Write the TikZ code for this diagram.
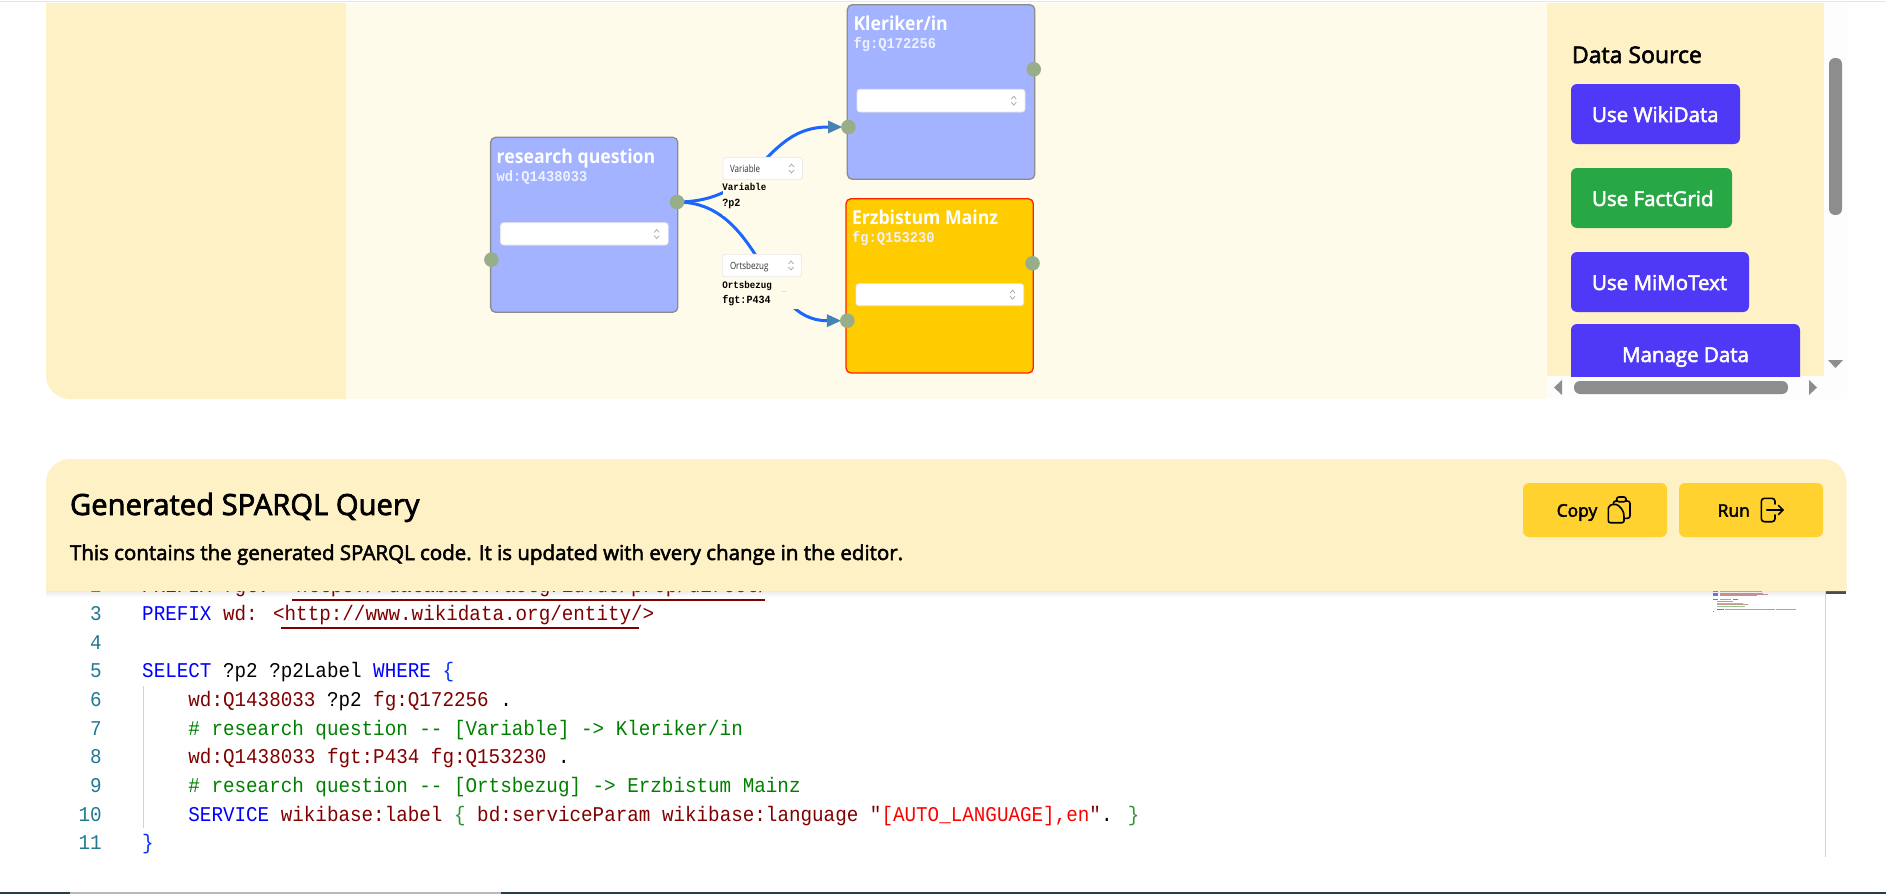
\documentclass[tikz,border=0pt]{standalone}
\usepackage{fontspec}
\usetikzlibrary{arrows.meta}
\setmainfont{Open Sans}
\newfontfamily\uifont[FakeStretch=0.92]{Open Sans}
\newfontfamily\uinarrow[FakeStretch=0.8]{Open Sans}
\newfontfamily\uisemi[FakeBold=2.5]{Open Sans}
\newfontfamily\codefont[FakeStretch=0.9167]{Liberation Mono}
\definecolor{panelA}{HTML}{FEF1C5}
\definecolor{panelB}{HTML}{FFFBEB}
\definecolor{scrollbg}{HTML}{FDFDFD}
\definecolor{thumb}{HTML}{8D8D8D}
\definecolor{indigo}{HTML}{4F39F6}
\definecolor{greenbtn}{HTML}{28A745}
\definecolor{nodeblue}{HTML}{A3B3FF}
\definecolor{nodegold}{HTML}{FFCC00}
\definecolor{handlec}{HTML}{98AE89}
\definecolor{edgec}{HTML}{1A66FF}
\definecolor{tipc}{HTML}{4682B4}
\definecolor{yellowbtn}{HTML}{FFD230}
\definecolor{kw}{HTML}{0000FF}
\definecolor{dr}{HTML}{800000}
\definecolor{cm}{HTML}{008000}
\definecolor{st}{HTML}{FF0000}
\definecolor{lnum}{HTML}{237893}
\definecolor{brA}{HTML}{0431FA}
\definecolor{brB}{HTML}{319331}
\definecolor{subid}{HTML}{EEF1FF}
\definecolor{barc}{HTML}{263D45}
\newcommand{\fsz}[1]{\fontsize{#1}{#1}\selectfont}
\newcommand{\kw}[1]{\textcolor{kw}{#1}}
\newcommand{\dr}[1]{\textcolor{dr}{#1}}
\newcommand{\cmt}[1]{\textcolor{cm}{#1}}
\newcommand{\chev}[2]{%
  \draw[gray!70,line width=0.7pt] (#1-2.5,#2-1.5) -- (#1,#2-4.5) -- (#1+2.5,#2-1.5);
  \draw[gray!70,line width=0.7pt] (#1-2.5,#2+1.5) -- (#1,#2+4.5) -- (#1+2.5,#2+1.5);}
\tikzset{
  txt/.style={anchor=base west,inner sep=0pt,outer sep=0pt},
  codeline/.style={txt,font=\codefont\fsz{21}},
  numline/.style={anchor=base east,inner sep=0pt,text=lnum,font=\codefont\fsz{21}},
  cardA/.style={draw=gray!90,line width=1.3pt,fill=nodeblue,rounded corners=5pt},
  cardB/.style={draw=red!75!orange,line width=1.3pt,fill=nodegold,rounded corners=5pt},
  selbox/.style={draw=gray!18,line width=0.8pt,fill=white,rounded corners=3pt},
  handle/.style={circle,fill=handlec,minimum size=14.6pt,inner sep=0pt,outer sep=0pt},
  edge/.style={draw=edgec,line width=3pt},
  tipped/.style={edge,-{Triangle[length=14pt,width=13pt,color=tipc,line width=0pt]},shorten >=6.4pt},
  cardtitle/.style={txt,text=white,font=\uifont\bfseries\fsz{19.2}},
  cardid/.style={txt,text=subid,font=\codefont\bfseries\fsz{15}},
  btn/.style={rounded corners=6pt},
  btnlabel/.style={txt,text=white,font=\uisemi\fsz{20.5}},
  edgelab/.style={txt,font=\codefont\bfseries\fsz{10}},
  edgeval/.style={txt,font=\codefont\bfseries\fsz{11}},
  sellab/.style={txt,text=black!80,font=\uinarrow\fsz{10}},
  icon/.style={line width=1.6pt,draw=black,line join=round,line cap=round},
}
\begin{document}
\begin{tikzpicture}[x=1pt,y=-1pt]
\useasboundingbox (0,0) rectangle (1886,894);
\fill[white] (0,0) rectangle (1886,894);
\draw[gray!20,line width=1.2pt] (0,1.5) -- (1886,1.5);
% top panel
\fill[panelA] (346,3) -- (346,399) -- (70,399) arc[start angle=270,end angle=180,radius=24pt] -- (46,3) -- cycle;
\fill[panelB] (346,3) rectangle (1547,399);
\fill[panelA] (1547,3) rectangle (1824,376);
\fill[scrollbg] (1824,3) rectangle (1847,376);
\fill[scrollbg] (1547,376) rectangle (1847,399);
\fill[thumb,rounded corners=6pt] (1829,58) rectangle (1842,215);
\fill[thumb] (1828,360) -- (1843,360) -- (1835.5,368) -- cycle;
\fill[thumb,rounded corners=6pt] (1574,381) rectangle (1788,394);
\fill[thumb] (1562,380) -- (1562,395) -- (1554,387.5) -- cycle;
\fill[thumb] (1809,380) -- (1809,395) -- (1817,387.5) -- cycle;
% data source
\node[txt,font=\uisemi\fsz{23}] (dsrc) at (1572,63) {Data Source};
\fill[indigo,btn] (1571,84) rectangle (1740,144);
\node[btnlabel] (b1) at (1592,122) {Use WikiData};
\fill[greenbtn,btn] (1571,168) rectangle (1732,228);
\node[btnlabel] (b2) at (1592,206) {Use FactGrid};
\fill[indigo,btn] (1571,252) rectangle (1749,312);
\node[btnlabel] (b3) at (1592,290) {Use MiMoText};
\begin{scope}
\clip (1571,320) rectangle (1800,376);
\fill[indigo,btn] (1571,324) rectangle (1800,400);
\end{scope}
\node[btnlabel] (b4) at (1622,362) {Manage Data};
% cards
\draw[cardA] (490.6,137.3) rectangle (677.8,312.3);
\draw[cardA] (847.3,4.7) rectangle (1034.8,179.3);
\draw[cardB] (846,198.7) rectangle (1033.3,373);
\node[cardtitle] (t1) at (496.7,163.5) {research question};
\node[cardid] (i1) at (496.7,181) {wd:Q1438033};
\node[cardtitle] (t2) at (853.5,30.3) {Kleriker/in};
\node[cardid] (i2) at (853.5,48) {fg:Q172256};
\node[cardtitle] (t3) at (852,224.3) {Erzbistum Mainz};
\node[cardid] (i3) at (852,242) {fg:Q153230};
\draw[selbox] (500.6,222.7) rectangle (668.2,245);
\draw[selbox] (857,89.3) rectangle (1025,112);
\draw[selbox] (856,283.7) rectangle (1023.7,305.7);
\chev{656.7}{234}
\chev{1013.8}{100.7}
\chev{1012.5}{294.7}
% coordinates for the edges
\coordinate (ro) at (677,202);
\coordinate (ki) at (848.4,127);
\coordinate (ei) at (847.3,320.7);
\draw[tipped] (ro) .. controls (762.7,202) and (762.7,127) .. (ki);
\draw[tipped] (ro) .. controls (762.2,202) and (762.2,320.7) .. (ei);
% edge label covers
\fill[panelB] (722.5,157) rectangle (802.5,216);
\fill[panelB] (722,254) rectangle (802,309);
\draw[selbox] (722.9,157.3) rectangle (802.5,179.7);
\draw[selbox] (722.3,254.3) rectangle (801.7,276.7);
\chev{791.5}{168.5}
\chev{791}{265.5}
\node[sellab] (s1) at (730,172) {Variable};
\node[sellab] (s2) at (730,269) {Ortsbezug};
\node[edgelab] (l1) at (722.3,190.7) {Variable};
\node[edgeval] (v1) at (722.3,206.7) {?p2};
\node[edgelab] (l2) at (722.3,288) {Ortsbezug};
\node[edgeval] (v2) at (722.3,303.3) {fgt:P434};
\draw[gray!25,line width=0.7pt] (782,291) -- (786,291);
\node[handle] (h1) at (ro) {};
\node[handle] (h2) at (491.4,259.7) {};
\node[handle] (h3) at (1033.7,69.3) {};
\node[handle] (h4) at (ki) {};
\node[handle] (h5) at (1032.5,263.3) {};
\node[handle] (h6) at (ei) {};
% code area
\fill[white] (46,591) rectangle (1846,857);
\shade[top color=black!8,bottom color=white] (46,591) rectangle (1846,597);
\fill[white] (1826,594) rectangle (1846,857);
\draw[gray!35,line width=0.7pt] (143.3,686) -- (143.3,827.7);
\draw[gray!35,line width=1pt] (1825.7,591) -- (1825.7,857);
\fill[black!70] (1826,591) rectangle (1846,594);
% line 2 (clipped by header)
\node[codeline] (c2) at (142.2,592) {\kw{PREFIX} \dr{fgt: <https://database.factgrid.de/prop/direct/>}};
\draw[dr,line width=1.6pt] (292.3,600) -- (765,600);
\node[numline] (n2) at (102,592) {2};
\node[numline] (n3) at (102,620.6) {3};
\node[numline] (n4) at (102,649.3) {4};
\node[numline] (n5) at (102,677.9) {5};
\node[numline] (n6) at (102,706.6) {6};
\node[numline] (n7) at (102,735.2) {7};
\node[numline] (n8) at (102,763.9) {8};
\node[numline] (n9) at (102,792.5) {9};
\node[numline] (n10) at (102,821.2) {10};
\node[numline] (n11) at (102,849.8) {11};
\node[codeline] (c3) at (142.2,620.6) {\kw{PREFIX} \dr{wd: <http://www.wikidata.org/entity/>}};
\draw[dr,line width=1.6pt] (280.8,628) -- (638.8,628);
\node[codeline] (c5) at (142.2,677.9) {\kw{SELECT} ?p2 ?p2Label \kw{WHERE} \textcolor{brA}{\{}};
\node[codeline] (c6) at (188.4,706.6) {\dr{wd:Q1438033} ?p2 \dr{fg:Q172256} .};
\node[codeline] (c7) at (188.4,735.2) {\cmt{\# research question {-}{-} [Variable] {-}> Kleriker/in}};
\node[codeline] (c8) at (188.4,763.9) {\dr{wd:Q1438033 fgt:P434 fg:Q153230} .};
\node[codeline] (c9) at (188.4,792.5) {\cmt{\# research question {-}{-} [Ortsbezug] {-}> Erzbistum Mainz}};
\node[codeline] (c10) at (188.4,821.2) {\kw{SERVICE} \dr{wikibase:label} \textcolor{brB}{\{} \dr{bd:serviceParam wikibase:language} \dr{"}\textcolor{st}{[AUTO\_LANGUAGE],en}\dr{"}. \textcolor{brB}{\}}};
\node[codeline] (c11) at (142.2,849.8) {\textcolor{brA}{\}}};
% minimap
\begin{scope}[line width=0.8pt,opacity=0.7]
\foreach \yy/\xe in {591.7/1762,593/1763,594.3/1768,595.7/1757}{
  \draw[kw!80] (1713.3,\yy) -- (1718.3,\yy);
  \draw[dr!60] (1720,\yy) -- (\xe,\yy);
}
\draw[kw!80] (1713.3,599.7) -- (1718.3,599.7);
\draw[black!50] (1720,599.7) -- (1731,599.7);
\draw[kw!80] (1733,599.7) -- (1738,599.7);
\draw[dr!60] (1717.3,601.3) -- (1733,601.3);
\draw[cm!60] (1717.3,603) -- (1743,603);
\draw[dr!60] (1717.3,604.7) -- (1748,604.7);
\draw[cm!60] (1717.3,606.3) -- (1745,606.3);
\draw[kw!80] (1717.3,609) -- (1724,609);
\draw[dr!60] (1725,609) -- (1775,609);
\draw[st!70] (1776,609) -- (1796,609);
\draw[kw!80] (1713.3,611.7) -- (1714.3,611.7);
\end{scope}
% header panel
\fill[panelA] (46,591) -- (46,483) arc[start angle=180,end angle=90,radius=24pt] -- (1822.7,459) arc[start angle=90,end angle=0,radius=24pt] -- (1846.7,591) -- cycle;
\node[txt,font=\uisemi\fsz{29.2}] (title) at (70,515) {Generated SPARQL Query};
\node[txt,font=\uisemi\fsz{20.5}] (sub) at (70,560) {This contains the generated SPARQL code. It is updated with every change in the editor.};
\fill[yellowbtn,btn] (1523,483) rectangle (1667,537);
\fill[yellowbtn,btn] (1679,483) rectangle (1823,537);
\node[txt,font=\uisemi\fsz{17.4}] (copy) at (1556.7,516.7) {Copy};
\node[txt,font=\uisemi\fsz{17.4}] (run) at (1717.7,516.7) {Run};
% copy icon
\draw[icon,rounded corners=2.5pt] (1613.3,501) rectangle (1630,518.3);
\draw[icon,fill=yellowbtn,rounded corners=2pt] (1616.7,497) rectangle (1626,501.7);
\draw[icon,fill=yellowbtn,rounded corners=2pt] (1608.3,506) -- (1608.3,522.7) -- (1624,522.7) -- (1624,515) .. controls (1623,510) and (1619,505) .. (1614,504) -- cycle;
% run icon
\draw[icon,rounded corners=3pt] (1775,504) -- (1775,498.3) -- (1761.3,498.3) -- (1761.3,521.7) -- (1775,521.7) -- (1775,515);
\draw[icon] (1766.7,510) -- (1783,510);
\draw[icon] (1778.5,505.5) -- (1783,510) -- (1778.5,514.5);
% bottom bar
\fill[barc] (0,891.7) rectangle (1886,894);
\fill[gray!55] (70,891.7) rectangle (501,894);
\end{tikzpicture}
\end{document}
